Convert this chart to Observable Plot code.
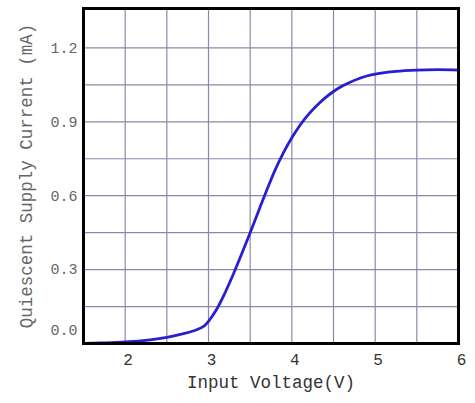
<!DOCTYPE html>
<html>
<head>
<meta charset="utf-8">
<script src="https://cdn.jsdelivr.net/npm/d3@7"></script>
<script src="https://cdn.jsdelivr.net/npm/@observablehq/plot@0.6"></script>
<style>
  html, body { margin: 0; padding: 0; background: #fff; }
  #chart svg { display: block; }
</style>
</head>
<body>
<div id="chart"></div>
<script>
// Input voltage (V) and quiescent supply current (mA)
const voltage = [1.5, 1.7, 2.0, 2.3, 2.5, 2.7, 2.85, 2.95, 3.0, 3.1, 3.2, 3.3, 3.4, 3.5, 3.6, 3.7, 3.8, 3.9, 4.0, 4.1, 4.2, 4.3, 4.4, 4.5, 4.6, 4.7, 4.8, 4.9, 5.0, 5.25, 5.5, 5.75, 6.0];
const current = [0.0, 0.002, 0.006, 0.015, 0.025, 0.04, 0.055, 0.072, 0.09, 0.14, 0.207, 0.283, 0.365, 0.45, 0.537, 0.623, 0.705, 0.775, 0.835, 0.887, 0.93, 0.966, 0.997, 1.023, 1.044, 1.061, 1.075, 1.086, 1.094, 1.105, 1.11, 1.112, 1.11];

const xTicks = [2, 3, 4, 5, 6];
const yTicks = [0.0, 0.3, 0.6, 0.9, 1.2];
const xGrid = [2, 2.5, 3, 3.5, 4, 4.5, 5, 5.5];
const yGrid = [0.15, 0.3, 0.45, 0.6, 0.75, 0.9, 1.05, 1.2];

const xLabel = "Input Voltage(V)";
const yLabel = "Quiescent Supply Current (mA)";

const data = voltage.map((v, i) => ({v, c: current[i]}));
const font = "Liberation Mono, DejaVu Sans Mono, monospace";

const chart = Plot.plot({
  width: 475,
  height: 403,
  marginLeft: 83,
  marginRight: 17,
  marginTop: 8,
  marginBottom: 60,
  style: {fontFamily: font, background: "#fff"},
  x: {domain: [1.5, 6]},
  y: {domain: [0, 1.36]},
  marks: [
    Plot.ruleX(xGrid, {stroke: "#8a88aa", strokeWidth: 1.2}),
    Plot.ruleY(yGrid, {stroke: "#8a88aa", strokeWidth: 1.2}),
    Plot.line(data, {x: "v", y: "c", stroke: "#2a1ed2", strokeWidth: 2.8, curve: "catmull-rom"}),
    Plot.frame({stroke: "#000", strokeWidth: 3}),
    Plot.axisX({ticks: xTicks, tickSize: 0, tickPadding: 10, dx: 3, fontSize: 16, fill: "#333",
      tickFormat: d => String(d), label: xLabel, labelAnchor: "center", labelOffset: 44, labelArrow: "none"}),
    Plot.axisY({ticks: yTicks.filter(d => d > 0), tickSize: 0, tickPadding: 6, fontSize: 15, fill: "#666",
      tickFormat: d => d.toFixed(1), label: yLabel, labelAnchor: "center", labelOffset: 64, labelArrow: "none"}),
    Plot.text(yTicks.filter(d => d === 0), {y: d => d, frameAnchor: "left", dx: -6, dy: -13, textAnchor: "end",
      text: d => d.toFixed(1), fontSize: 15, fill: "#666"})
  ]
});
// enlarge the axis titles to match the reference
d3.select(chart).selectAll("g[aria-label='x-axis label'] text, g[aria-label='y-axis label'] text")
  .attr("font-size", 17.5).style("font-size", "17.5px");
document.getElementById("chart").appendChild(chart);
</script>
</body>
</html>
